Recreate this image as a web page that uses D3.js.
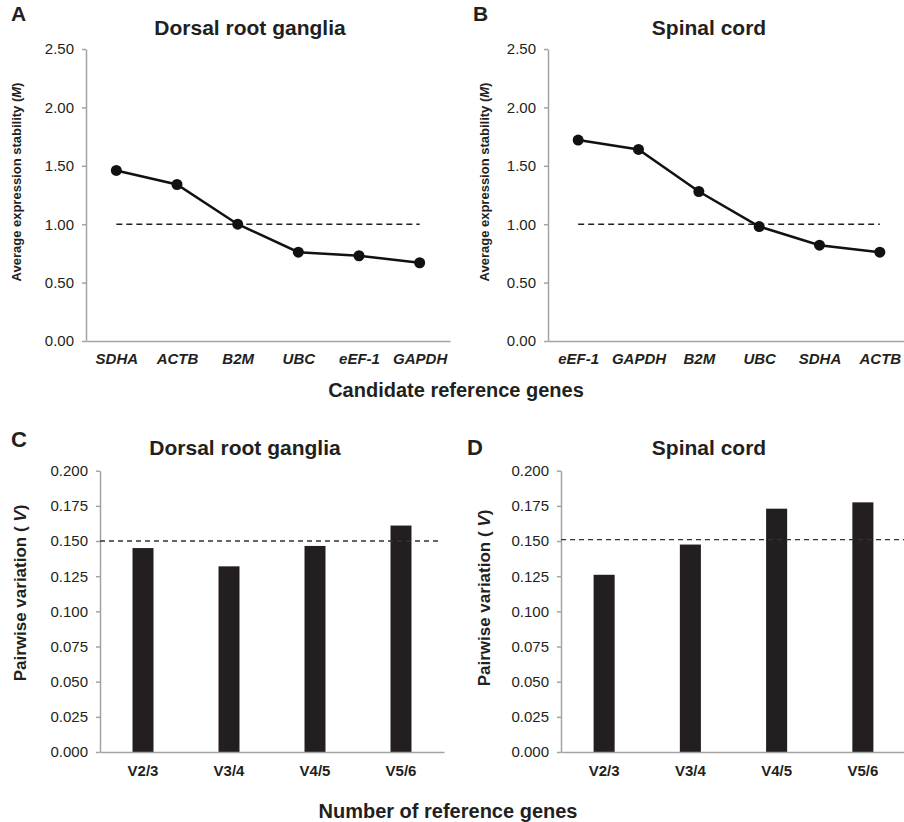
<!DOCTYPE html>
<html>
<head>
<meta charset="utf-8">
<script src="https://cdn.jsdelivr.net/npm/d3@7"></script>
<style>
    body { margin: 0; background: #fff; }
    text { font-family: "Liberation Sans", Arial, sans-serif; fill: #231f20; }
    .axis path, .axis line { stroke: #a3a3a3; stroke-width: 1.5; }
    .axis text { font-size: 15px; fill: #231f20; }
</style>
</head>
<body>
<div id="chart"></div>
<script>

// geNorm stability (M) per gene, ranked
var drgGenes = ["SDHA", "ACTB", "B2M", "UBC", "eEF-1", "GAPDH"];
var drgM = [1.46, 1.34, 1.00, 0.76, 0.73, 0.67];

var scGenes = ["eEF-1", "GAPDH", "B2M", "UBC", "SDHA", "ACTB"];
var scM = [1.72, 1.64, 1.28, 0.98, 0.82, 0.76];

var mTicks = [0, 0.5, 1.0, 1.5, 2.0, 2.5];
var mCutoff = 1.0;

// pairwise variation (V)
var pairs = ["V2/3", "V3/4", "V4/5", "V5/6"];
var drgV = [0.145, 0.132, 0.1465, 0.161];
var scV = [0.126, 0.1475, 0.173, 0.1775];

var vTicks = [0, 0.025, 0.05, 0.075, 0.1, 0.125, 0.15, 0.175, 0.2];
var vCutoff = 0.15;

var svg = d3.select('#chart').append('svg')
    .attr('width', 904)
    .attr('height', 822);

function lineChart(opt) {
    var x = d3.scalePoint().domain(opt.genes).range(opt.xr).padding(0.5);
    var y = d3.scaleLinear().domain([0, 2.5]).range([341, 49]);
    var data = opt.genes.map(function (g, i) { return { gene: g, m: opt.values[i] }; });

    svg.append('g')
        .attr('class', 'y axis')
        .attr('transform', 'translate(' + opt.xr[0] + ',0)')
        .call(d3.axisLeft(y).tickValues(mTicks).tickFormat(d3.format('.2f'))
            .tickSizeInner(4).tickSizeOuter(0).tickPadding(8));

    var xa = svg.append('g')
        .attr('class', 'x axis')
        .attr('transform', 'translate(0,' + y(0) + ')')
        .call(d3.axisBottom(x).tickSize(0).tickPadding(12));
    xa.selectAll('text')
        .style('font-weight', 'bold')
        .style('font-style', 'italic');

    // cutoff
    svg.append('line')
        .attr('x1', x(opt.genes[0])).attr('x2', x(opt.genes[opt.genes.length - 1]))
        .attr('y1', y(mCutoff)).attr('y2', y(mCutoff))
        .attr('stroke', '#231f20').attr('stroke-width', 1.6)
        .attr('stroke-dasharray', '6,4');

    var line = d3.line()
        .x(function (d) { return x(d.gene); })
        .y(function (d) { return y(d.m); });

    svg.append('path')
        .datum(data)
        .attr('fill', 'none')
        .attr('stroke', '#111')
        .attr('stroke-width', 2.5)
        .attr('d', line);

    svg.append('g').selectAll('circle')
        .data(data)
        .enter().append('circle')
        .attr('cx', function (d) { return x(d.gene); })
        .attr('cy', function (d) { return y(d.m); })
        .attr('r', 5.5)
        .attr('fill', '#111');

    svg.append('text')
        .attr('x', opt.titleX).attr('y', 35)
        .attr('text-anchor', 'middle')
        .style('font-size', '21px').style('font-weight', 'bold')
        .text(opt.title);

    svg.append('text')
        .attr('x', opt.letterX).attr('y', 21)
        .style('font-size', '21px').style('font-weight', 'bold')
        .text(opt.letter);

    var yl = svg.append('text')
        .attr('transform', 'translate(' + opt.ylabX + ',182) rotate(-90)')
        .attr('text-anchor', 'middle')
        .style('font-size', '13px').style('font-weight', 'bold');
    yl.append('tspan').text('Average expression stability (');
    yl.append('tspan').style('font-style', 'italic').text('M');
    yl.append('tspan').text(')');
}

function barChart(opt) {
    var x = d3.scaleBand().domain(pairs).range(opt.xr)
        .paddingInner(0.756).paddingOuter(0.378);
    var y = d3.scaleLinear().domain([0, 0.2]).range([752, 470.7]);

    svg.append('g')
        .attr('class', 'y axis')
        .attr('transform', 'translate(' + opt.xr[0] + ',0)')
        .call(d3.axisLeft(y).tickValues(vTicks).tickFormat(d3.format('.3f'))
            .tickSizeInner(4).tickSizeOuter(0).tickPadding(8));

    svg.append('g').selectAll('rect')
        .data(opt.values)
        .enter().append('rect')
        .attr('x', function (d, i) { return x(pairs[i]); })
        .attr('y', function (d) { return y(d); })
        .attr('width', x.bandwidth())
        .attr('height', function (d) { return y(0) - y(d); })
        .attr('fill', '#231f20');

    var xa = svg.append('g')
        .attr('class', 'x axis')
        .attr('transform', 'translate(0,' + y(0) + ')')
        .call(d3.axisBottom(x).tickSize(0).tickPadding(13));
    xa.selectAll('text').style('font-weight', 'bold');

    svg.append('line')
        .attr('x1', opt.xr[0]).attr('x2', opt.dashEnd)
        .attr('y1', y(opt.cutoff)).attr('y2', y(opt.cutoff))
        .attr('stroke', '#333').attr('stroke-width', 1.4)
        .attr('stroke-dasharray', '5,4');

    svg.append('text')
        .attr('x', opt.titleX).attr('y', 455)
        .attr('text-anchor', 'middle')
        .style('font-size', '21px').style('font-weight', 'bold')
        .text(opt.title);

    svg.append('text')
        .attr('x', opt.letterX).attr('y', opt.letterY)
        .style('font-size', '22px').style('font-weight', 'bold')
        .text(opt.letter);

    var yl = svg.append('text')
        .attr('transform', 'translate(' + opt.ylabX + ',' + opt.ylabY + ') rotate(-90)')
        .attr('text-anchor', 'middle')
        .style('font-size', '17px').style('font-weight', 'bold');
    yl.append('tspan').text('Pairwise variation ( ');
    yl.append('tspan').style('font-style', 'italic').text('V');
    yl.append('tspan').text(')');
}

lineChart({ genes: drgGenes, values: drgM, xr: [86, 450], title: 'Dorsal root ganglia',
    titleX: 250, letter: 'A', letterX: 11, ylabX: 21 });
lineChart({ genes: scGenes, values: scM, xr: [548, 910], title: 'Spinal cord',
    titleX: 709, letter: 'B', letterX: 473, ylabX: 489 });

barChart({ values: drgV, xr: [100, 444], cutoff: vCutoff, dashEnd: 440, title: 'Dorsal root ganglia',
    titleX: 245, letter: 'C', letterX: 11, letterY: 447, ylabX: 26, ylabY: 593 });
barChart({ values: scV, xr: [561, 906], cutoff: 0.151, dashEnd: 904, title: 'Spinal cord',
    titleX: 709, letter: 'D', letterX: 467, letterY: 455, ylabX: 490, ylabY: 598 });

svg.append('text')
    .attr('x', 456).attr('y', 397)
    .attr('text-anchor', 'middle')
    .style('font-size', '20px').style('font-weight', 'bold')
    .text('Candidate reference genes');

svg.append('text')
    .attr('x', 448).attr('y', 818)
    .attr('text-anchor', 'middle')
    .style('font-size', '20px').style('font-weight', 'bold')
    .text('Number of reference genes');

</script>
</body>
</html>
